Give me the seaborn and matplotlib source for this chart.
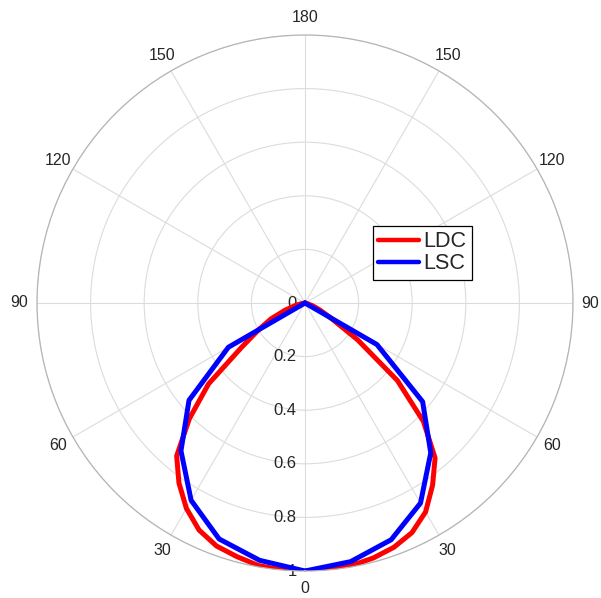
import numpy as np
import pandas as pd
import matplotlib
matplotlib.use('Agg')
import matplotlib.pyplot as plt
import matplotlib.transforms as mtransforms
import seaborn as sns

# Dados (graus a partir de 0 = para baixo)
ang_ldc = [0, 5, 10, 15, 20, 25, 30, 35, 40, 45, 50, 55, 60, 65, 70, 75, 80, 85, 90]
ldc_esq = [1.0, 1.0, 0.995, 0.98, 0.965, 0.935, 0.885, 0.82, 0.745, 0.61, 0.47,
           0.29, 0.20, 0.14, 0.08, 0.04, 0.015, 0.0, 0.0]
ldc_dir = [1.0, 1.0, 0.995, 0.985, 0.97, 0.945, 0.90, 0.83, 0.755, 0.625, 0.45,
           0.24, 0.11, 0.06, 0.03, 0.01, 0.0, 0.0, 0.0]

ang_lsc = [0, 10, 20, 30, 40, 50, 60, 70, 80, 90]
lsc_esq = [1.0, 0.975, 0.937, 0.85, 0.72, 0.565, 0.33, 0.0, 0.0, 0.0]
lsc_dir = [1.0, 0.98, 0.94, 0.862, 0.73, 0.573, 0.31, 0.0, 0.0, 0.0]

theta_ticks = [0, 30, 60, 90, 120, 150, 180, 210, 240, 270, 300, 330]
theta_labels = ['0', '30', '60', '90', '120', '150', '180', '150', '120', '90', '60', '30']
r_ticks = [0, 0.2, 0.4, 0.6, 0.8, 1]
r_labels = ['0', '0.2', '0.4', '0.6', '0.8', '1']


def curva(ang, esq, dir_):
    ang = np.array(ang, dtype=float)
    th = np.concatenate([-ang[::-1], ang[1:]])
    r = np.concatenate([np.array(esq)[::-1], np.array(dir_)[1:]])
    return pd.DataFrame({'theta': np.deg2rad(th), 'r': r})


df_ldc = curva(ang_ldc, ldc_esq, ldc_dir)
df_lsc = curva(ang_lsc, lsc_esq, lsc_dir)

sns.set_style("white")
plt.rcParams['font.family'] = ['Liberation Sans', 'DejaVu Sans']

fig = plt.figure(figsize=(6.01, 5.98), dpi=100)
ax = fig.add_axes([37 / 601, 27 / 598, 536 / 601, 536 / 598], projection='polar')
ax.set_theta_zero_location('S')

sns.lineplot(data=df_ldc, x='theta', y='r', sort=False, ax=ax, color='#ff0000',
             lw=3.6, label='LDC', estimator=None)
sns.lineplot(data=df_lsc, x='theta', y='r', sort=False, ax=ax, color='#0000ff',
             lw=3.6, label='LSC', estimator=None)

ax.set_xlabel('')
ax.set_ylabel('')
ax.set_ylim(0, 1)
ax.set_yticks(r_ticks)
ax.set_yticklabels([])
ax.set_thetagrids(theta_ticks, [''] * len(theta_ticks))
ax.grid(True, color='#dcdcdc', linewidth=0.8)
ax.spines['polar'].set_color('#b5b5b5')
ax.spines['polar'].set_linewidth(0.9)

# rótulos angulares num raio fixo (estilo MATLAB)
for tv, lab in zip(theta_ticks, theta_labels):
    ax.text(np.deg2rad(tv), 1.065, lab, ha='center', va='center', fontsize=11.5,
            color='#262626', clip_on=False)

# rótulos radiais ao longo do eixo 0 (para baixo)
desloc = mtransforms.ScaledTranslation(-6 / 72, 0, fig.dpi_scale_trans)
for rv, lab in zip(r_ticks, r_labels):
    ax.text(0, rv, lab, ha='right', va='center', fontsize=12, color='#262626',
            transform=ax.transData + desloc, zorder=1)

leg = ax.legend(loc='upper left', bbox_to_anchor=(0.627, 0.644), fontsize=15.5,
                frameon=True, fancybox=False, edgecolor='black', framealpha=1,
                handlelength=1.9, handletextpad=0.2, borderpad=0.25,
                labelspacing=0.05, borderaxespad=0)
leg.get_frame().set_linewidth(0.9)
for h in leg.get_lines():
    h.set_linewidth(3.2)

fig.savefig('out.png', dpi=100)
